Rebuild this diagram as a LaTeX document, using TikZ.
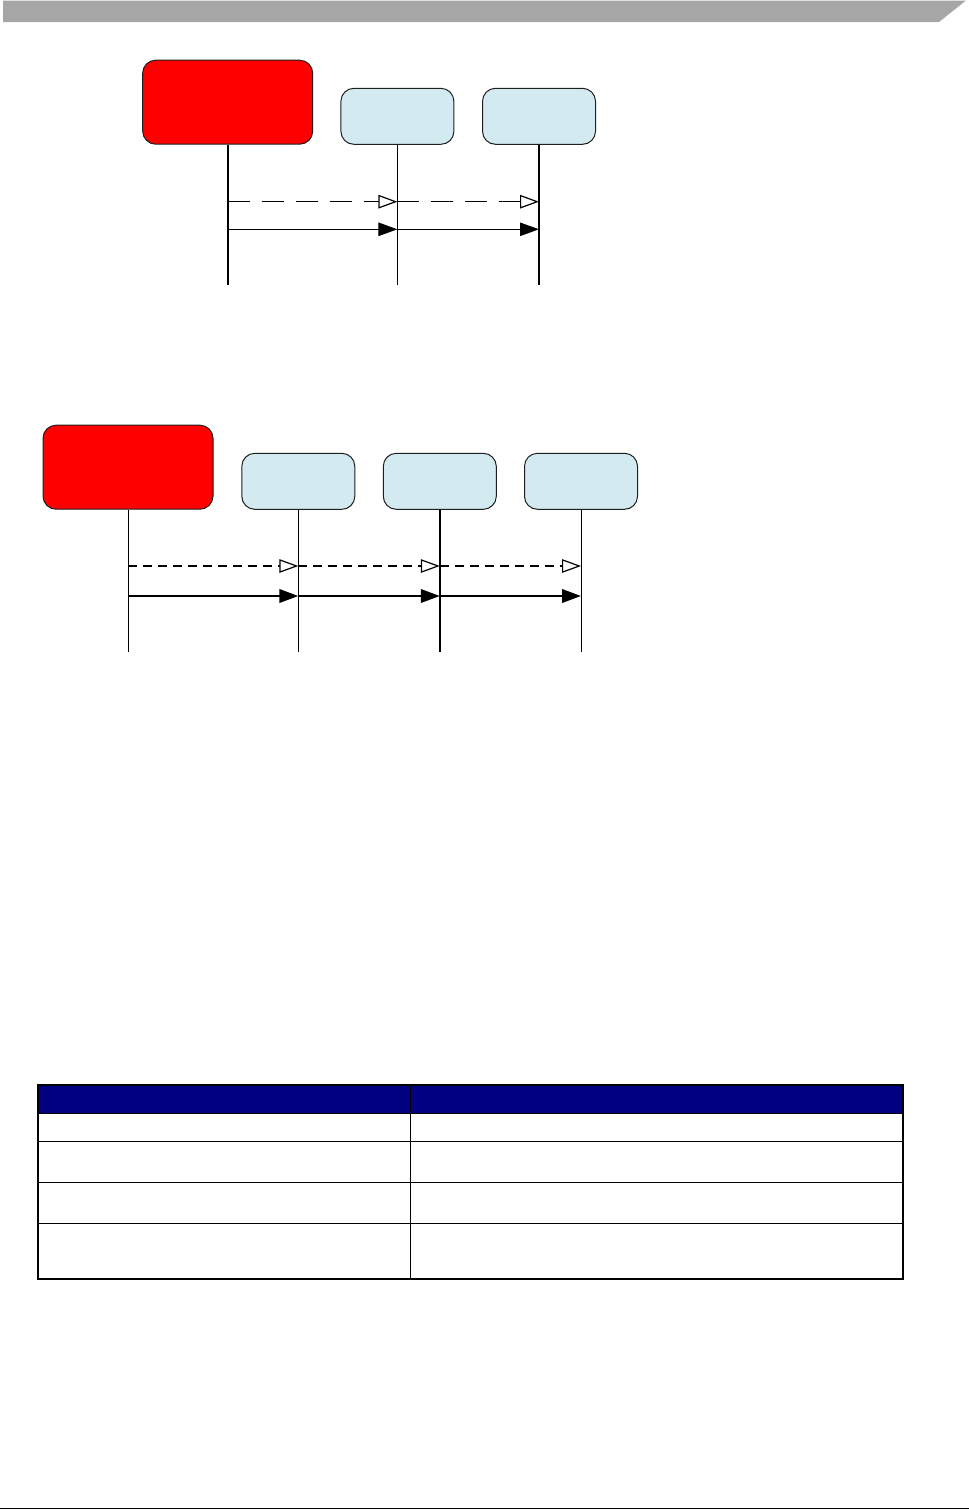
\documentclass[tikz,border=0pt]{standalone}
\usepackage{tikz}
\usetikzlibrary{arrows.meta,positioning,calc}
\definecolor{HeadGray}{RGB}{166,166,166}
\definecolor{AlarmRed}{RGB}{255,0,0}
\definecolor{SoftCyan}{RGB}{210,234,240}
\definecolor{Navy}{RGB}{0,0,128}
\definecolor{Edge}{RGB}{30,30,30}
\tikzset{
  box/.style={draw=Edge,line width=1pt,rounded corners=13pt,inner sep=0pt},
  actor/.style={box,fill=AlarmRed,minimum width=170pt,minimum height=84pt},
  part/.style={box,fill=SoftCyan,minimum width=113pt,minimum height=56pt},
  life/.style={draw=black,line width=1pt},
  lifebold/.style={draw=black,line width=2pt},
  opentip/.style={-{Triangle[open,fill=white,length=19pt,width=13.5pt,line width=1.2pt]}},
  fulltip/.style={-{Triangle[length=19pt,width=13.5pt]}},
  sigA/.style={opentip,line width=1pt,dash pattern=on 22pt off 12pt},
  stepA/.style={fulltip,line width=1pt},
  sigB/.style={opentip,line width=2pt,dash pattern=on 9pt off 6pt},
  stepB/.style={fulltip,line width=2.2pt},
  grid/.style={draw=black,line width=1.5pt}
}
\begin{document}
\begin{tikzpicture}[x=1pt,y=-1pt]
  \useasboundingbox (0,0) rectangle (969,1510);
  % page head and foot
  \fill[HeadGray] (3,0.5) -- (966,0.5) -- (939,22) -- (3,22) -- cycle;
  \draw[line width=1.5pt] (0,1508.5) -- (969,1508.5);

  % first sequence
  \node[actor] (ecuA) at (227.7,102.2) {};
  \node[part] (nodeA1) at (397.4,116.3) {};
  \node[part] (nodeA2) at (539,116.3) {};
  \coordinate (endA) at (0,285);
  \coordinate (msgA1) at (0,201.7);
  \coordinate (msgA2) at (0,229.3);
  \draw[lifebold] (ecuA.south) -- (ecuA.south |- endA);
  \draw[life] (nodeA1.south) -- (nodeA1.south |- endA);
  \draw[lifebold] (nodeA2.south) -- (nodeA2.south |- endA);
  \draw[sigA] (ecuA |- msgA1) -- (nodeA1 |- msgA1);
  \draw[sigA] (nodeA1 |- msgA1) -- (nodeA2 |- msgA1);
  \draw[stepA] (ecuA |- msgA2) -- (nodeA1 |- msgA2);
  \draw[stepA] (nodeA1 |- msgA2) -- (nodeA2 |- msgA2);

  % second sequence
  \node[actor] (ecuB) at (128,467.2) {};
  \node[part] (nodeB1) at (298.3,481.3) {};
  \node[part] (nodeB2) at (439.8,481.3) {};
  \node[part] (nodeB3) at (581,481.3) {};
  \coordinate (endB) at (0,652);
  \coordinate (msgB1) at (0,566);
  \coordinate (msgB2) at (0,596);
  \draw[life] (ecuB.south) -- (ecuB.south |- endB);
  \draw[life] (nodeB1.south) -- (nodeB1.south |- endB);
  \draw[lifebold] (nodeB2.south) -- (nodeB2.south |- endB);
  \draw[life] (nodeB3.south) -- (nodeB3.south |- endB);
  \draw[sigB] (ecuB |- msgB1) -- (nodeB1 |- msgB1);
  \draw[sigB] (nodeB1 |- msgB1) -- (nodeB2 |- msgB1);
  \draw[sigB] (nodeB2 |- msgB1) -- (nodeB3 |- msgB1);
  \draw[stepB] (ecuB |- msgB2) -- (nodeB1 |- msgB2);
  \draw[stepB] (nodeB1 |- msgB2) -- (nodeB2 |- msgB2);
  \draw[stepB] (nodeB2 |- msgB2) -- (nodeB3 |- msgB2);

  % table
  \fill[Navy] (38,1085) rectangle (903,1113.3);
  \draw[grid] (38,1085) rectangle (903,1279);
  \draw[grid] (38,1113.3) -- (903,1113.3);
  \draw[grid] (38,1141.7) -- (903,1141.7);
  \draw[grid] (38,1182.3) -- (903,1182.3);
  \draw[grid] (38,1223.3) -- (903,1223.3);
  \draw[grid] (410.6,1085) -- (410.6,1279);
\end{tikzpicture}
\end{document}
